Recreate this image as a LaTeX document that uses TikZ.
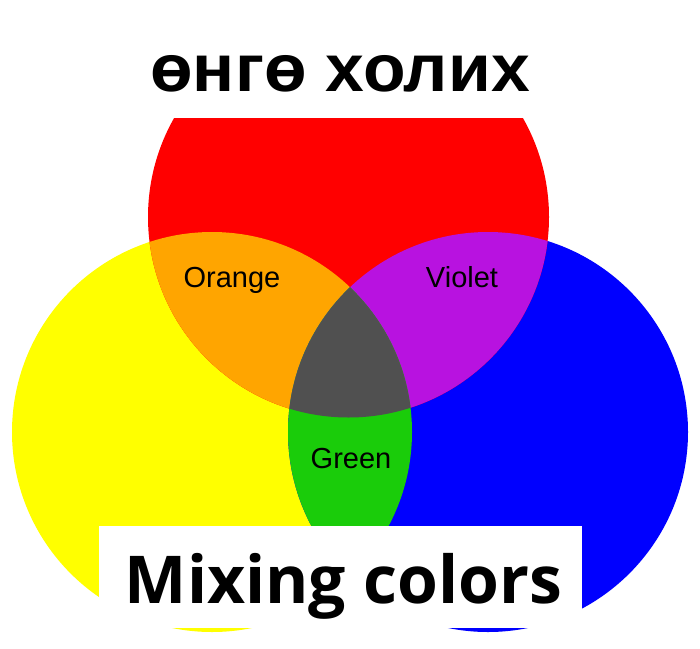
\documentclass[tikz,border=0pt]{standalone}
\usepackage{fontspec}
\setmainfont{Liberation Sans}
\newfontfamily\mixfont{Open Sans}
\definecolor{cred}{HTML}{FF0000}
\definecolor{cyellow}{HTML}{FFFF00}
\definecolor{cblue}{HTML}{0000FF}
\definecolor{corange}{HTML}{FFA500}
\definecolor{cviolet}{HTML}{B812E0}
\definecolor{cgreen}{HTML}{1ACC0A}
\definecolor{cgrey}{HTML}{505050}
\tikzset{
  lbl/.style={anchor=base, inner sep=0pt, font=\fontsize{29}{34}\selectfont, text=black},
  titletext/.style={anchor=base, inner sep=0pt, xscale=1.04, font=\fontsize{67}{72}\selectfont\bfseries},
  mixtext/.style={anchor=base, inner sep=0pt, font=\mixfont\fontsize{66}{74}\selectfont\bfseries}
}
\begin{document}
\begin{tikzpicture}[x=1pt,y=-1pt]
\useasboundingbox (0,0) rectangle (700,648);
\fill[white] (0,0) rectangle (700,648);
% base circles
\fill[cyellow] (212,432) circle[radius=200pt];
\fill[cblue] (488,432) circle[radius=200pt];
\fill[cred] (348.5,217) circle[radius=200.5pt];
% pairwise overlaps
\begin{scope}
  \clip (348.5,217) circle[radius=200.5pt];
  \fill[corange] (212,432) circle[radius=200pt];
\end{scope}
\begin{scope}
  \clip (348.5,217) circle[radius=200.5pt];
  \fill[cviolet] (488,432) circle[radius=200pt];
\end{scope}
\begin{scope}
  \clip (212,432) circle[radius=200pt];
  \fill[cgreen] (488,432) circle[radius=200pt];
\end{scope}
% triple overlap
\begin{scope}
  \clip (348.5,217) circle[radius=200.5pt];
  \clip (212,432) circle[radius=200pt];
  \fill[cgrey] (488,432) circle[radius=200pt];
\end{scope}
% white covers
\fill[white] (0,0) rectangle (700,118);
\fill[white] (99,526) rectangle (582,628);
% texts
\node[titletext] (title) at (340,91) {өнгө холих};
\node[lbl] (orange) at (232,287) {Orange};
\node[lbl] (violet) at (462,287) {Violet};
\node[lbl] (green) at (351,468) {Green};
\node[mixtext] (mix) at (343.5,603) {Mixing colors};
\end{tikzpicture}
\end{document}
